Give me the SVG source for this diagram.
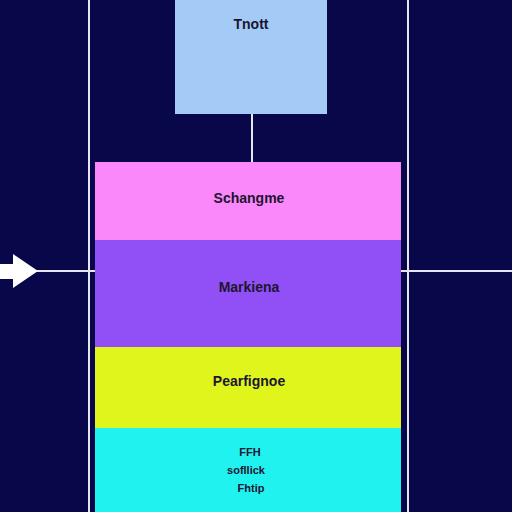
<svg xmlns="http://www.w3.org/2000/svg" width="512" height="512" viewBox="0 0 512 512">
<style>
.lbl{font-family:"Liberation Sans",Arial,sans-serif;font-size:14px;font-weight:bold;fill:#1c1530;text-anchor:middle}
.sm{font-family:"Liberation Sans",Arial,sans-serif;font-size:11px;font-weight:bold;fill:#1c1530;text-anchor:middle}
.ln{stroke:#e6e6f0;stroke-width:2;fill:none}
</style>
<rect width="512" height="512" fill="#07074a"/>
<g id="connectors">
<line class="ln" x1="89" y1="0" x2="89" y2="512"/>
<line class="ln" x1="408" y1="0" x2="408" y2="512"/>
<line class="ln" x1="252" y1="114" x2="252" y2="162"/>
<line class="ln" x1="30" y1="271" x2="95" y2="271"/>
<line class="ln" x1="400" y1="271" x2="512" y2="271"/>
<polygon points="0,264 13,264 13,254 38,271 13,288 13,279 0,279" fill="#ffffff"/>
</g>
<g id="node-top">
<rect x="175" y="0" width="152" height="114" fill="#a3cbf5"/>
<text class="lbl" x="251" y="29">Tnott</text>
</g>
<g id="node-pink">
<rect x="95" y="162" width="306" height="79" fill="#fb88fa"/>
<text class="lbl" x="249" y="203">Schangme</text>
</g>
<g id="node-purple">
<rect x="95" y="240" width="306" height="107" fill="#9050f5"/>
<text class="lbl" x="249" y="292">Markiena</text>
</g>
<g id="node-yellow">
<rect x="95" y="347" width="306" height="82" fill="#e0f51c"/>
<text class="lbl" x="249" y="386">Pearfignoe</text>
</g>
<g id="node-cyan">
<rect x="95" y="428" width="306" height="84" fill="#20f2ef"/>
<text class="sm" x="250" y="456">FFH</text>
<text class="sm" x="246" y="474">sofllick</text>
<text class="sm" x="251" y="492">Fhtip</text>
</g>
</svg>
